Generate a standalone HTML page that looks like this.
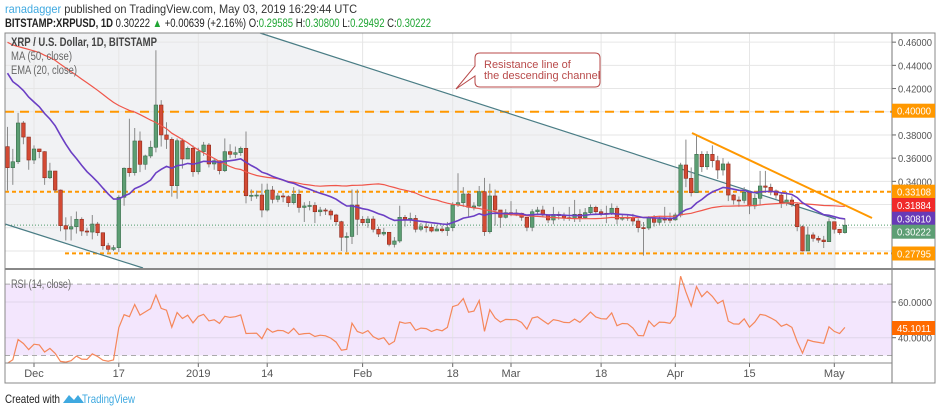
<!DOCTYPE html>
<html><head><meta charset="utf-8"><style>
html,body{margin:0;padding:0;background:#fff;width:939px;height:410px;overflow:hidden}
svg{display:block;font-family:"Liberation Sans",sans-serif}
</style></head><body>
<svg id="c" width="939" height="410" viewBox="0 0 939 410" xmlns="http://www.w3.org/2000/svg">
<text x="5" y="13" font-size="12" textLength="352" lengthAdjust="spacingAndGlyphs"><tspan fill="#3fa9e0">ranadagger</tspan><tspan fill="#333"> published on TradingView.com, May 03, 2019 16:29:44 UTC</tspan></text>
<text x="5" y="27" font-size="11.5" fill="#222" textLength="426" lengthAdjust="spacingAndGlyphs"><tspan font-weight="bold">BITSTAMP:XRPUSD, 1D</tspan><tspan> 0.30222 </tspan><tspan fill="#1fa533">▲</tspan><tspan> +0.00639 (+2.16%) O:</tspan><tspan fill="#1fa533">0.29585</tspan><tspan> H:</tspan><tspan fill="#1fa533">0.30800</tspan><tspan> L:</tspan><tspan fill="#1fa533">0.29492</tspan><tspan> C:</tspan><tspan fill="#1fa533">0.30222</tspan></text>
<g id="plot"></g>
<text x="5" y="403" font-size="12" fill="#222" textLength="55" lengthAdjust="spacingAndGlyphs">Created with</text>
<g><path d="M63 403 l6 -8 l5 5 l4 -5 l6 8 z" fill="#3fa9e0"/><text x="82" y="403" font-size="12" fill="#3fa9e0" textLength="53" lengthAdjust="spacingAndGlyphs">TradingView</text></g>
</svg>
<script>
const history=[0.47,0.47,0.46,0.44,0.42,0.43,0.44,0.46,0.44,0.46,0.47,0.46,0.46,0.46,0.46,0.46,0.46,0.46,0.46,0.46,0.45,0.46,0.46,0.45,0.45,
0.46,0.48,0.49,0.51,0.51,0.51,0.53,0.51,0.50,0.51,0.51,0.51,0.50,0.47,0.48,0.48,0.48,0.47,0.45,0.41,0.43,0.41,0.40,0.36,0.3699];
const closes=[0.3518,0.3569,0.3903,0.3782,0.3584,0.3679,0.3656,0.3431,0.3489,0.3325,
0.3018,0.2989,0.3009,0.3073,0.2972,0.2963,0.3032,0.2957,0.2845,0.2814,
0.2828,0.3263,0.3513,0.3475,0.3748,0.3547,0.3619,0.3694,0.4058,0.3800,
0.3762,0.3363,0.3750,0.3593,0.3685,0.3483,0.3656,0.3713,0.3550,0.3578,
0.3492,0.3656,0.3633,0.3647,0.3685,0.3276,0.3280,0.3282,0.3153,0.3325,
0.3245,0.3274,0.3268,0.3216,0.3288,0.3175,0.3188,0.3192,0.3138,0.3153,
0.3144,0.3110,0.3052,0.2918,0.2925,0.3196,0.3073,0.3044,0.3075,0.2987,
0.2946,0.2961,0.2857,0.2886,0.3090,0.3073,0.3081,0.2987,0.3009,0.3004,
0.2972,0.2989,0.2975,0.3001,0.3196,0.3216,0.3291,0.3176,0.3188,0.3311,
0.2966,0.3274,0.3153,0.3090,0.3130,0.3127,0.3125,0.3090,0.3004,0.3138,
0.3153,0.3110,0.3067,0.3116,0.3104,0.3087,0.3084,0.3116,0.3087,0.3130,
0.3176,0.3138,0.3125,0.3123,0.3168,0.3075,0.3090,0.3088,0.3058,0.3001,
0.2998,0.3087,0.3047,0.3075,0.3073,0.3068,0.3110,0.3541,0.3426,0.3302,
0.3633,0.3526,0.3633,0.3578,0.3498,0.3550,0.3282,0.3239,0.3236,0.3306,
0.3188,0.3254,0.3360,0.3349,0.3317,0.3282,0.3216,0.3239,0.3202,0.3009,
0.2800,0.2938,0.2909,0.2894,0.2880,0.3052,0.2987,0.2958,0.3022];
const highs=[0.387,0.368,0.399,0.392,0.378,0.371,0.368,0.366,0.356,0.349,
0.333,0.309,0.310,0.314,0.309,0.300,0.311,0.305,0.296,0.287,
0.285,0.328,0.352,0.394,0.386,0.383,0.363,0.375,0.453,0.410,
0.391,0.378,0.377,0.377,0.370,0.371,0.369,0.374,0.373,0.360,
0.358,0.377,0.372,0.370,0.370,0.383,0.333,0.332,0.338,0.338,
0.336,0.330,0.330,0.328,0.335,0.333,0.322,0.323,0.322,0.318,
0.317,0.316,0.312,0.306,0.296,0.333,0.333,0.310,0.310,0.310,
0.301,0.300,0.296,0.292,0.319,0.311,0.313,0.311,0.304,0.305,
0.303,0.302,0.302,0.305,0.322,0.347,0.335,0.330,0.322,0.336,
0.343,0.338,0.333,0.313,0.316,0.323,0.316,0.313,0.307,0.316,
0.318,0.319,0.311,0.318,0.314,0.313,0.318,0.324,0.316,0.317,
0.320,0.319,0.316,0.319,0.321,0.319,0.312,0.311,0.312,0.308,
0.305,0.310,0.311,0.310,0.318,0.313,0.313,0.356,0.376,0.352,
0.380,0.366,0.366,0.371,0.362,0.360,0.357,0.329,0.327,0.335,
0.331,0.329,0.349,0.349,0.338,0.333,0.330,0.331,0.327,0.321,
0.302,0.301,0.296,0.293,0.293,0.308,0.305,0.299,0.3080];
const lows=[0.332,0.337,0.355,0.372,0.350,0.355,0.360,0.337,0.342,0.331,
0.297,0.289,0.289,0.295,0.293,0.293,0.290,0.293,0.281,0.279,
0.280,0.279,0.319,0.344,0.345,0.348,0.350,0.360,0.365,0.370,
0.368,0.3268,0.325,0.351,0.360,0.344,0.346,0.362,0.352,0.350,
0.346,0.348,0.360,0.360,0.362,0.321,0.323,0.325,0.309,0.314,
0.321,0.322,0.322,0.318,0.320,0.313,0.305,0.315,0.304,0.310,
0.311,0.307,0.302,0.280,0.279,0.286,0.2937,0.302,0.300,0.296,
0.292,0.293,0.284,0.283,0.287,0.301,0.304,0.296,0.297,0.296,
0.296,0.297,0.296,0.293,0.297,0.318,0.318,0.309,0.315,0.318,
0.293,0.295,0.302,0.300,0.308,0.310,0.310,0.306,0.297,0.297,
0.311,0.309,0.304,0.303,0.307,0.306,0.306,0.305,0.305,0.308,
0.311,0.311,0.310,0.304,0.311,0.303,0.306,0.306,0.302,0.296,
0.276,0.298,0.301,0.302,0.304,0.304,0.306,0.309,0.335,0.327,
0.330,0.348,0.350,0.352,0.342,0.345,0.323,0.320,0.318,0.321,
0.3117,0.316,0.320,0.330,0.328,0.325,0.317,0.319,0.318,0.297,
0.2795,0.285,0.288,0.287,0.2825,0.288,0.295,0.294,0.2949];
const priceTicks=[0.28,0.30,0.32,0.34,0.36,0.38,0.40,0.42,0.44,0.46];
const dateLabels=["Dec","17","2019","14","Feb","18","Mar","18","Apr","15","May"];
const dateIdx=[5,21,36,49,67,84,95,112,126,140,156];
const rsiTicks=[40,60];

const NS="http://www.w3.org/2000/svg";
const g=document.getElementById('plot');
function el(t,a,p){const e=document.createElementNS(NS,t);for(const k in a)e.setAttribute(k,a[k]);(p||g).appendChild(e);return e;}
const X=i=>7.5+5.3*i;
const Y=p=>191.7-(p-0.33108)*1160;
const RY=r=>302-(r-60)*1.785;
const L=5,R=892,T=33,PB=268,RT=270,RB=363;

el('rect',{x:L,y:T,width:R-L,height:PB-T,fill:'#fff'});
let chan=el('polygon',{points:`${L},${T} 260,${T} 836,219 836,${PB} 143,${PB} ${L},224`,fill:'#f1f2f4'});

let rb=el('rect',{x:L,y:RY(70),width:R-L,height:RY(30)-RY(70),fill:'#f3e6fd'});


priceTicks.forEach(p=>{const y=Y(p);if(y>T&&y<PB){el('line',{x1:L,x2:R,y1:y,y2:y,stroke:'#e6e6e6'});
const t=el('text',{x:898,y:y+4,'font-size':10.5,fill:'#555',textLength:34,lengthAdjust:'spacingAndGlyphs'});t.textContent=p.toFixed(5);

el('line',{x1:R,x2:R+4,y1:y,y2:y,stroke:'#666'});}});
dateIdx.forEach((d,k)=>{const x=X(d);el('line',{x1:x,x2:x,y1:T,y2:RB,stroke:'#e6e6e6'});
const t=el('text',{x:x,y:377,'font-size':11,fill:'#555','text-anchor':'middle'});t.textContent=dateLabels[k];

el('line',{x1:x,x2:x,y1:RB,y2:RB+4,stroke:'#666'});});
rsiTicks.forEach(r=>{const y=RY(r);el('line',{x1:L,x2:R,y1:y,y2:y,stroke:'#e0d6ea'});
const t=el('text',{x:898,y:y+4,'font-size':10.5,fill:'#555',textLength:34,lengthAdjust:'spacingAndGlyphs'});t.textContent=r.toFixed(4);

el('line',{x1:R,x2:R+4,y1:y,y2:y,stroke:'#666'});});
[70,30].forEach(r=>el('line',{x1:L,x2:R,y1:RY(r),y2:RY(r),stroke:'#aaa','stroke-dasharray':'5,4'}));

function hl(p,x1,color,dash,w,name){const l=el('line',{x1:x1,x2:R,y1:Y(p),y2:Y(p),stroke:color,'stroke-width':w,'stroke-dasharray':dash});
}
hl(0.40,L,'#ff9800','9,6',2,'level-040');
hl(0.33108,L,'#ff9800','4,3',2,'level-033108');
hl(0.27795,65,'#ff9800','4,3',2,'level-027795');
hl(0.30222,L,'#4f9a6a','1,2',1,'last-price-line');

let ch1=el('line',{x1:260,y1:T,x2:836,y2:219,stroke:'#4a7d85','stroke-width':1.2});

let ch2=el('line',{x1:L,y1:224,x2:143,y2:PB,stroke:'#4a7d85','stroke-width':1.2});


const all=history.concat(closes);const H=history.length;
function ma(n){return closes.map((c,i)=>{let s=0;for(let k=0;k<n;k++)s+=all[H+i-k];return s/n;});}
function ema(n){let a=2/(n+1);let e=all.slice(0,n).reduce((s,v)=>s+v,0)/n;const out=[];
for(let j=n;j<all.length;j++){e=all[j]*a+e*(1-a);if(j>=H)out.push(e);}return out;}
function rsi(n){let ag=0,al=0;for(let j=1;j<=n;j++){const d=all[j]-all[j-1];if(d>0)ag+=d;else al-=d;}ag/=n;al/=n;const out=[];
for(let j=n+1;j<all.length;j++){const d=all[j]-all[j-1];ag=(ag*(n-1)+Math.max(d,0))/n;al=(al*(n-1)+Math.max(-d,0))/n;if(j>=H)out.push(100-100/(1+ag/al));}return out;}
function pathOf(arr,yf){return arr.map((v,i)=>(i?'L':'M')+X(i).toFixed(1)+','+yf(v).toFixed(1)).join('');}
const clip=el('clipPath',{id:'cp'});el('rect',{x:L,y:T,width:R-L,height:PB-T},clip);

const cg=el('g',{'clip-path':'url(#cp)'});
closes.forEach((c,i)=>{const o=i?closes[i-1]:0.3699;const up=c>=o;const x=X(i);
const grp=el('g',{},cg);


el('line',{x1:x,x2:x,y1:Y(highs[i]),y2:Y(lows[i]),stroke:'#8a8a8a'},grp);
const top=Y(Math.max(o,c)),bot=Y(Math.min(o,c));
el('rect',{x:x-1.8,y:top,width:3.6,height:Math.max(1,bot-top),fill:up?'#5c9e73':'#d34a34',stroke:up?'#3b6e4d':'#8e2c1e','stroke-width':0.6},grp);});

let m50=el('path',{d:pathOf(ma(50),Y),fill:'none',stroke:'#f0564a','stroke-width':1.2,'clip-path':'url(#cp)'});

let e20=el('path',{d:pathOf(ema(20),Y),fill:'none',stroke:'#6b3fc4','stroke-width':1.6,'clip-path':'url(#cp)'});

let rl=el('path',{d:pathOf(rsi(14),RY),fill:'none',stroke:'#f5875a','stroke-width':1.2});


let tl=el('line',{x1:692,y1:133,x2:872,y2:218,stroke:'#ff9800','stroke-width':2});


let co=el('path',{d:'M480,53 H595 Q600,53 600,58 V82 Q600,87 595,87 H480 Q475,87 475,82 V76 L456,89 L475,66 V58 Q475,53 480,53 Z',fill:'#fff',stroke:'#b84a4a','stroke-width':1});

const ct=el('text',{x:484,y:68,'font-size':11,fill:'#b84a4a'});

ct.innerHTML='<tspan x="484">Resistance line of</tspan><tspan x="484" dy="11">the descending channel</tspan>';

[['XRP / U.S. Dollar, 1D, BITSTAMP',46,'#444','bold',146],['MA (50, close)',60,'#666','normal',61],['EMA (20, close)',74,'#666','normal',66]].forEach(a=>{
const t=el('text',{x:11,y:a[1],'font-size':11.5,fill:a[2],'font-weight':a[3],textLength:a[4],lengthAdjust:'spacingAndGlyphs'});t.textContent=a[0];
});
const rt=el('text',{x:11,y:288,'font-size':11.5,fill:'#666',textLength:60,lengthAdjust:'spacingAndGlyphs'});rt.textContent='RSI (14, close)';


el('rect',{x:L,y:T,width:935-L,height:383-T,fill:'none',stroke:'#888'});
el('line',{x1:R,x2:R,y1:T,y2:383,stroke:'#777'});
el('line',{x1:L,x2:935,y1:269,y2:269,stroke:'#888','stroke-width':2});
el('line',{x1:L,x2:R,y1:RB,y2:RB,stroke:'#888'});

[['0.40000',110.7,'#ff9800'],['0.33108',191.7,'#ff9800'],['0.31884',205,'#f02a2a'],['0.30810',218.7,'#673ab7'],['0.30222',231.7,'#5d9e74'],['0.27795',253.5,'#ff9800'],['45.1011',328,'#ff6a00']].forEach(a=>{
const b=el('rect',{x:R,y:a[1]-7,width:43,height:14,fill:a[2]});

const t=el('text',{x:R+5,y:a[1]+4,'font-size':10.5,fill:'#fff',textLength:34,lengthAdjust:'spacingAndGlyphs'});t.textContent=a[0];});
</script>
</body></html>
